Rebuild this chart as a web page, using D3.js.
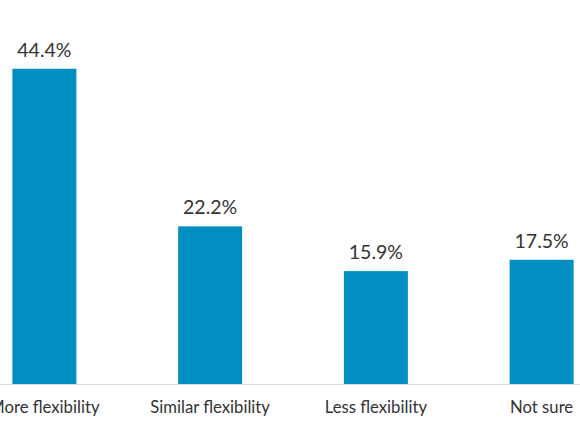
<!DOCTYPE html>
<html><head><meta charset="utf-8">
<script src="https://cdn.jsdelivr.net/npm/d3@7"></script>
<style>html,body{margin:0;padding:0;background:#fff;overflow:hidden}</style>
</head><body>
<svg id="c" width="580" height="435"></svg>
<script>
const categories = ["More flexibility", "Similar flexibility", "Less flexibility", "Not sure"];
const values = [44.4, 22.2, 15.9, 17.5];
const valueLabels = ["44.4%", "22.2%", "15.9%", "17.5%"];

const svg = d3.select("#c");
const font = "Lato, 'Open Sans', sans-serif";
const x = d3.scaleBand().domain(categories).range([-38.5, 624.5])
  .paddingInner(0.614).paddingOuter(0.307);
const y = d3.scaleLinear().domain([0, 50]).range([384, 29]);

svg.selectAll("rect.bar").data(categories).enter().append("rect")
  .attr("class", "bar")
  .attr("x", d => x(d))
  .attr("width", x.bandwidth())
  .attr("y", (d, i) => y(values[i]))
  .attr("height", (d, i) => y(0) - y(values[i]))
  .attr("fill", "#008fc0");

svg.selectAll("text.val").data(categories).enter().append("text")
  .attr("class", "val")
  .attr("x", d => x(d) + x.bandwidth() / 2)
  .attr("y", (d, i) => y(values[i]) - 12)
  .attr("text-anchor", "middle")
  .attr("font-family", font)
  .attr("font-size", 19.5)
  .attr("fill", "#333")
  .text((d, i) => valueLabels[i]);

const axis = d3.axisBottom(x).tickSize(0).tickPadding(0);
const g = svg.append("g").attr("transform", `translate(0,${y(0)})`).call(axis);
g.select(".domain").attr("d", "M0,0.5H580").attr("stroke", "#d9d9d9").attr("stroke-width", 1);
g.selectAll(".tick text")
  .attr("y", 28.5).attr("dy", null)
  .attr("font-family", font).attr("font-size", 16.7).attr("fill", "#333");
</script>
</body></html>
